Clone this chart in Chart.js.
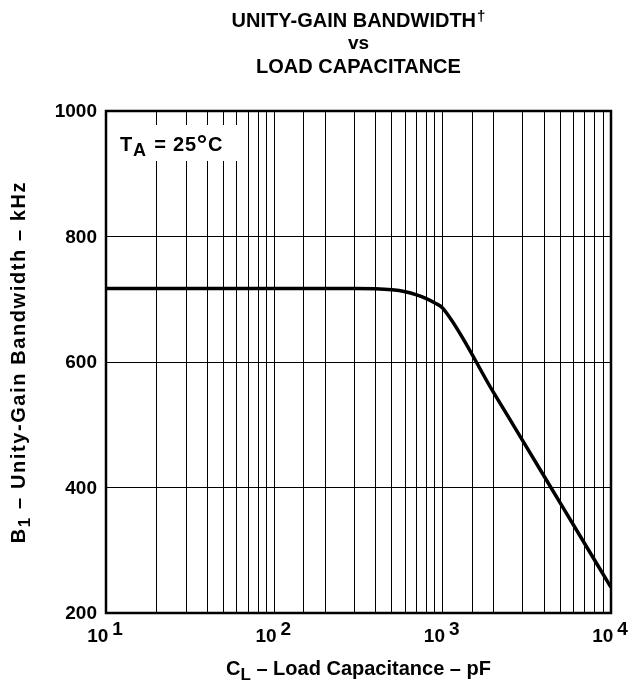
<!DOCTYPE html>
<html>
<head>
<meta charset="utf-8">
<script src="https://cdn.jsdelivr.net/npm/chart.js@4/dist/chart.umd.min.js"></script>
<style>
  html, body { margin: 0; padding: 0; background: #fff; }
  #wrap { width: 634px; height: 687px; }
</style>
</head>
<body>
<div id="wrap"><canvas id="bwChart" width="634" height="687"></canvas></div>
<script>
// Unity-gain bandwidth vs load capacitance (TA = 25°C)
const capacitance = [10, 100, 300, 500, 600, 700, 800, 900, 1000, 2000, 3000, 5000, 10000]; // pF
const bandwidth = [717, 717, 717, 715, 712, 707, 701, 694, 686, 552, 474, 375, 241];        // kHz
const xDecades = [10, 100, 1000, 10000];
const yTicks = [200, 400, 600, 800, 1000];
const titleLines = ['UNITY-GAIN BANDWIDTH', 'vs', 'LOAD CAPACITANCE'];

const FONT = '"Liberation Sans", Arial, Helvetica, sans-serif';

// draw a run of text pieces (some raised / lowered), aligned at x
function drawParts(ctx, parts, x, y, align, spacing) {
  ctx.letterSpacing = (spacing || 0) + 'px';
  let total = 0;
  parts.forEach(p => {
    ctx.font = 'bold ' + p.size + 'px ' + FONT;
    p.w = ctx.measureText(p.t).width + (p.gap || 0);
    total += p.w;
  });
  let cx = align === 'left' ? x : align === 'right' ? x - total : x - total / 2;
  ctx.textAlign = 'left';
  ctx.textBaseline = 'alphabetic';
  parts.forEach(p => {
    ctx.font = 'bold ' + p.size + 'px ' + FONT;
    ctx.fillText(p.t, cx + (p.gap || 0), y + (p.dy || 0));
    cx += p.w;
  });
  ctx.letterSpacing = '0px';
}

const decorations = {
  id: 'decorations',
  beforeDatasetsDraw(chart) {
    // white box behind the temperature note, hides the grid there
    const ctx = chart.ctx;
    ctx.save();
    ctx.fillStyle = '#fff';
    ctx.fillRect(chart.chartArea.left + 1, 125, 138, 36);
    ctx.fillStyle = '#000';
    drawParts(ctx, [
      { t: 'T', size: 20 },
      { t: 'A', size: 18, dy: 5 },
      { t: ' = 25', size: 20, gap: 1 },
      { t: '°', size: 26, dy: 2 },
      { t: 'C', size: 20 }
    ], 120, 151, 'left', 0.8);
    ctx.restore();
  },
  afterDraw(chart) {
    const ctx = chart.ctx;
    const a = chart.chartArea;
    const xs = chart.scales.x, ys = chart.scales.y;
    ctx.save();
    ctx.strokeStyle = '#000';
    ctx.lineWidth = 2.5;
    ctx.strokeRect(a.left, a.top, a.right - a.left, a.bottom - a.top);

    ctx.fillStyle = '#000';
    const cx = (a.left + a.right) / 2;

    // title
    drawParts(ctx, [{ t: titleLines[0], size: 20 }, { t: '†', size: 15, dy: -6, gap: 1 }], cx, 27);
    drawParts(ctx, [{ t: titleLines[1], size: 19 }], cx, 49);
    drawParts(ctx, [{ t: titleLines[2], size: 20 }], cx, 73);

    // y tick labels
    yTicks.forEach(v => {
      ctx.font = 'bold 19px ' + FONT;
      ctx.textAlign = 'right';
      ctx.textBaseline = 'middle';
      ctx.fillText(String(v), a.left - 9, ys.getPixelForValue(v) + 1);
    });

    // x tick labels 10^n
    xDecades.forEach(v => {
      const exp = String(Math.round(Math.log10(v)));
      drawParts(ctx, [{ t: '10', size: 19 }, { t: exp, size: 19, dy: -7, gap: 4 }],
        xs.getPixelForValue(v) - 1, 642);
    });

    // x axis title
    drawParts(ctx, [
      { t: 'C', size: 20 },
      { t: 'L', size: 17, dy: 5 },
      { t: ' – Load Capacitance – pF', size: 20 }
    ], cx, 675);

    // y axis title
    ctx.translate(25, (a.top + a.bottom) / 2);
    ctx.rotate(-Math.PI / 2);
    drawParts(ctx, [
      { t: 'B', size: 20 },
      { t: '1', size: 17, dy: 5 },
      { t: ' – Unity-Gain Bandwidth – kHz', size: 20 }
    ], 0, 0, 'center', 1.6);
    ctx.restore();
  }
};

new Chart(document.getElementById('bwChart').getContext('2d'), {
  type: 'line',
  data: {
    datasets: [{
      data: capacitance.map((c, i) => ({ x: c, y: bandwidth[i] })),
      borderColor: '#000',
      borderWidth: 3.5,
      pointRadius: 0,
      fill: false,
      cubicInterpolationMode: 'monotone'
    }]
  },
  options: {
    responsive: false,
    animation: false,
    layout: { padding: { left: 106, right: 23, top: 111, bottom: 74 } },
    plugins: {
      legend: { display: false },
      tooltip: { enabled: false }
    },
    scales: {
      x: {
        type: 'logarithmic',
        min: 10,
        max: 10000,
        ticks: { display: false, autoSkip: false },
        grid: { color: '#000', lineWidth: 1, drawTicks: false },
        border: { display: false }
      },
      y: {
        min: 200,
        max: 1000,
        ticks: { display: false, stepSize: 200 },
        grid: { color: '#000', lineWidth: 1, drawTicks: false },
        border: { display: false }
      }
    }
  },
  plugins: [decorations]
});
</script>
</body>
</html>
